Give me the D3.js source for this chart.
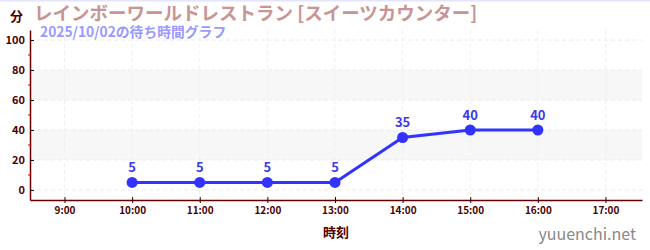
<!DOCTYPE html>
<html>
<head>
<meta charset="utf-8">
<script src="https://cdn.jsdelivr.net/npm/d3@7"></script>
<style>
  body { margin: 0; background: #fff; }
  #chart { width: 650px; height: 250px; }
  text { font-family: "Noto Sans CJK JP", "Noto Sans", sans-serif; }
</style>
</head>
<body>
<div id="chart"></div>
<script>
const titleText = "レインボーワールドレストラン [スイーツカウンター]";
const subTitleText = "2025/10/02の待ち時間グラフ";
const hours = [10, 11, 12, 13, 14, 15, 16];
const waits = [5, 5, 5, 5, 35, 40, 40];
const xTicks = [9, 10, 11, 12, 13, 14, 15, 16, 17];
const yTicks = [0, 20, 40, 60, 80, 100];
const yMinorTicks = [10, 30, 50, 70, 90];
const bands = [[20, 40], [60, 80]];

function draw_chart() {
  const margin = {top: 30, right: 8, bottom: 50, left: 30},
      width = 650 - margin.left - margin.right,
      height = 250 - margin.top - margin.bottom;

  const root = d3.select("#chart").append("svg")
    .attr("width", 650)
    .attr("height", 250);

  // thin line on top
  root.append("rect")
    .attr("x", 0).attr("y", 0).attr("width", 650).attr("height", 1.5)
    .attr("fill", "#e4e4ff");

  const svg = root.append("g")
    .attr("transform", `translate(${margin.left}, ${margin.top})`);

  const x = d3.scaleLinear().domain([8.49, 17.54]).range([0, width]);
  const y = d3.scaleLinear().domain([-6.7, 106.7]).range([height, 0]);

  // grey bands
  svg.selectAll(".band")
    .data(bands)
    .join("rect")
      .attr("x", 0)
      .attr("width", width)
      .attr("y", d => y(d[1]))
      .attr("height", d => y(d[0]) - y(d[1]))
      .attr("fill", "#f7f7f7");

  // grid lines
  svg.selectAll(".hgrid")
    .data(yTicks)
    .join("line")
      .attr("x1", 0).attr("x2", width)
      .attr("y1", d => y(d)).attr("y2", d => y(d))
      .attr("stroke", "#ebebeb")
      .attr("stroke-dasharray", "4,3");

  svg.selectAll(".vgrid")
    .data(xTicks)
    .join("line")
      .attr("x1", d => x(d)).attr("x2", d => x(d))
      .attr("y1", 0).attr("y2", height)
      .attr("stroke", "#f0f0f0")
      .attr("stroke-dasharray", "4,3");

  // Y axis
  const yAxis = svg.append("g")
    .call(d3.axisLeft(y).tickValues(yTicks).tickSize(4).tickSizeOuter(0));
  yAxis.select(".domain").attr("stroke", "#660000").attr("stroke-width", 1.5);
  yAxis.selectAll(".tick line").attr("stroke", "#330000").attr("x2", 4);
  yAxis.selectAll(".tick text")
    .attr("fill", "#4d0000")
    .attr("x", -5)
    .style("font-size", "11px")
    .style("font-weight", "bold");

  svg.selectAll(".ymin")
    .data(yMinorTicks)
    .join("line")
      .attr("x1", -2).attr("x2", 1)
      .attr("y1", d => y(d)).attr("y2", d => y(d))
      .attr("stroke", "#dd0000");

  // X axis
  const xAxis = svg.append("g")
    .attr("transform", `translate(0, ${height})`)
    .call(d3.axisBottom(x).tickValues(xTicks).tickSize(4).tickSizeOuter(0)
      .tickFormat(d => d + ":00"));
  xAxis.select(".domain").attr("stroke", "#660000").attr("stroke-width", 1.5);
  xAxis.selectAll(".tick line").attr("stroke", "#330000").attr("y1", -3).attr("y2", 3);
  xAxis.selectAll(".tick text")
    .attr("fill", "#4d0000")
    .attr("y", 7)
    .style("font-size", "10px")
    .style("font-weight", "bold");

  // line
  const pts = hours.map((h, i) => ({time: h, value: waits[i]}));
  const line = d3.line().x(d => x(d.time)).y(d => y(d.value));
  svg.append("path")
    .attr("d", line(pts))
    .attr("stroke", "#3333ff")
    .attr("stroke-width", 3)
    .attr("fill", "none");

  svg.selectAll(".dot")
    .data(pts)
    .join("circle")
      .attr("cx", d => x(d.time))
      .attr("cy", d => y(d.value))
      .attr("r", 5.5)
      .attr("fill", "#3333ff");

  svg.selectAll(".lbl")
    .data(pts)
    .join("text")
      .attr("x", d => x(d.time))
      .attr("y", d => y(d.value) - 10)
      .attr("text-anchor", "middle")
      .attr("fill", "#3b3be6")
      .style("font-size", "13px")
      .style("font-weight", "bold")
      .text(d => d.value);

  // texts
  root.append("text")
    .attr("x", 10).attr("y", 21)
    .attr("fill", "#4d0000")
    .style("font-size", "13px")
    .style("font-weight", "bold")
    .text("分");

  root.append("text")
    .attr("x", 34).attr("y", 20)
    .attr("fill", "#c89494")
    .style("font-size", "18.5px")
    .style("font-weight", "bold")
    .text(titleText);

  root.append("text")
    .attr("x", 40).attr("y", 37)
    .attr("fill", "#9999ff")
    .style("font-size", "13.8px")
    .style("font-weight", "bold")
    .text(subTitleText);

  root.append("text")
    .attr("x", margin.left + width / 2)
    .attr("y", 237)
    .attr("text-anchor", "middle")
    .attr("fill", "#4d0000")
    .style("font-size", "13px")
    .style("font-weight", "bold")
    .text("時刻");

  root.append("text")
    .attr("x", 636).attr("y", 240)
    .attr("text-anchor", "end")
    .attr("fill", "#888888")
    .style("font-size", "16px")
    .text("yuuenchi.net");
}

draw_chart();
</script>
</body>
</html>
